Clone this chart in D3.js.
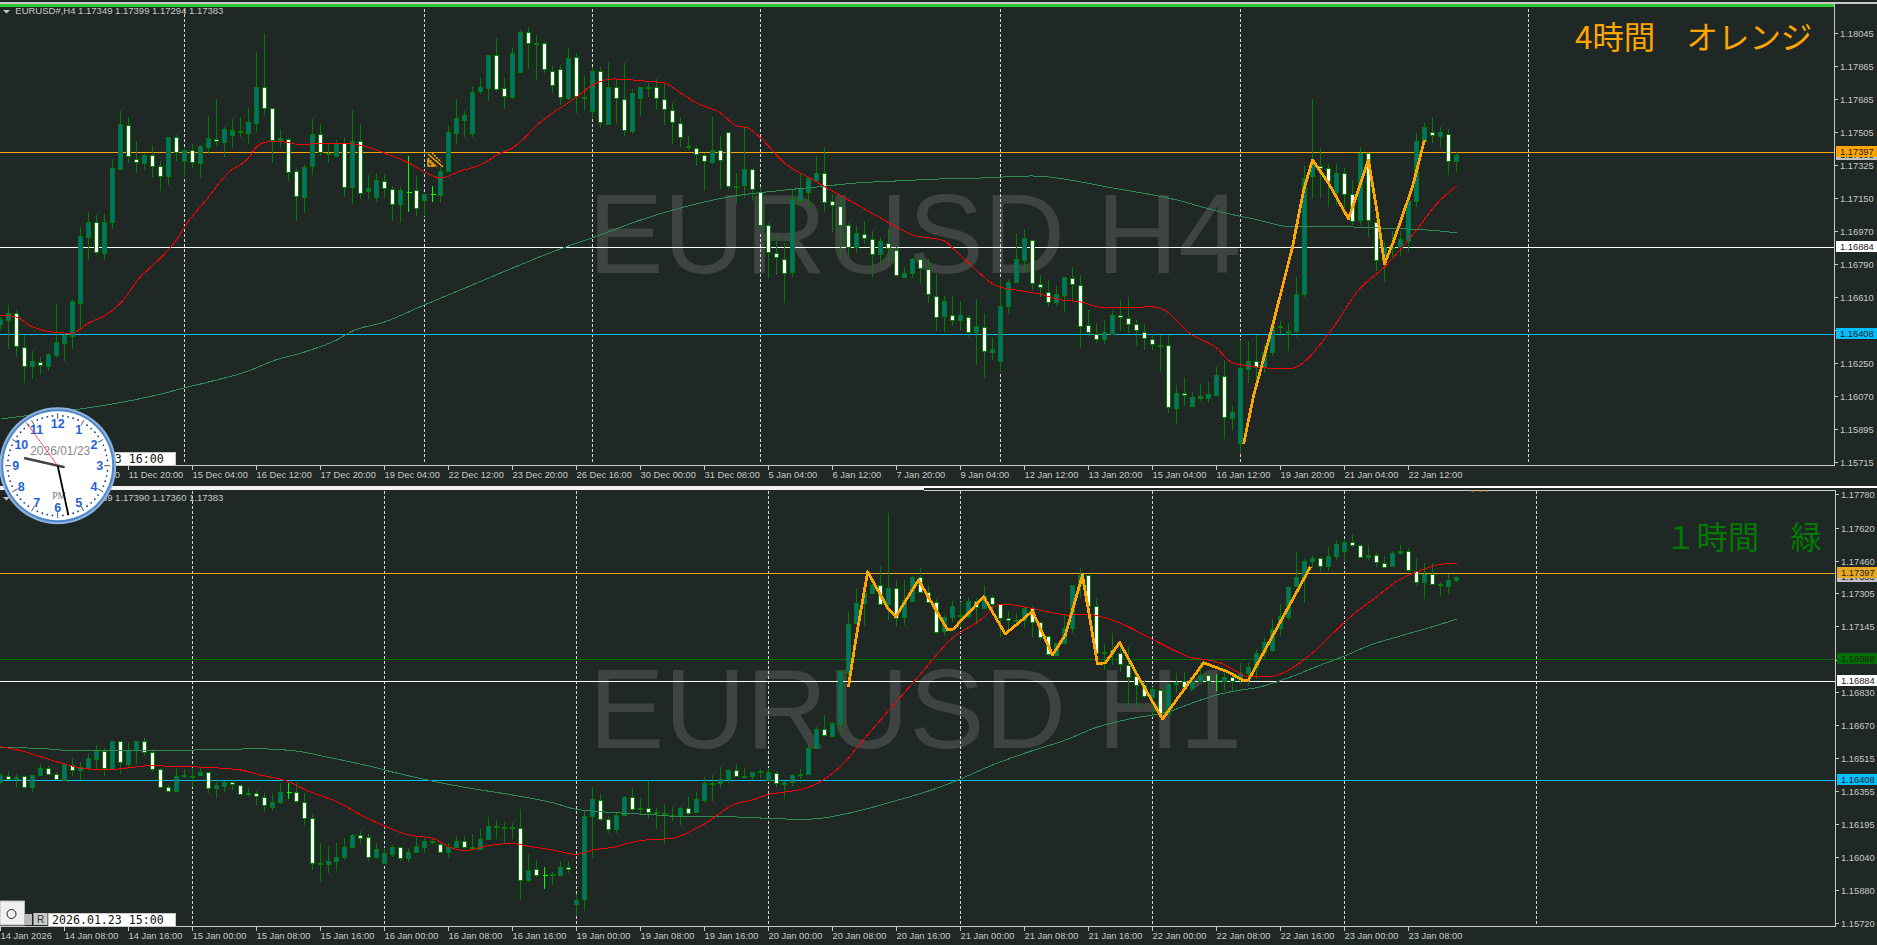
<!DOCTYPE html>
<html>
<head>
<meta charset="utf-8">
<title>EURUSD H4 / H1</title>
<script src="https://cdnjs.cloudflare.com/ajax/libs/d3/7.8.5/d3.min.js"></script>
<style>
html, body { margin: 0; padding: 0; background: #1f2825; overflow: hidden; }
svg { display: block; }
text { font-family: "Liberation Sans", Arial, sans-serif; }
</style>
</head>
<body>
<svg id="chart" width="1877" height="945"></svg>
<script>
// all prices in points, 17397 means 1.17397
// candles are [open, high, low, close]
var h4Candles = [
[16461,16504,16434,16488],[16483,16570,16331,16521],[16521,16542,16287,16341],[16341,16407,16146,16238],[16233,16320,16168,16260],
[16255,16287,16195,16238],[16233,16309,16211,16298],[16293,16575,16282,16363],[16358,16418,16265,16401],[16396,16602,16331,16586],
[16580,16993,16434,16944],[16933,17075,16814,17015],[17015,17058,16841,16852],[16852,17064,16814,17020],[17015,17362,16982,17308],
[17303,17623,17303,17547],[17542,17591,17341,17373],[17362,17460,17286,17346],[17341,17395,17303,17384],[17384,17433,17259,17324],
[17324,17352,17189,17270],[17265,17477,17221,17477],[17477,17493,17346,17395],[17352,17422,17265,17411],[17406,17444,17314,17341],
[17335,17439,17259,17428],[17422,17596,17390,17471],[17466,17688,17433,17455],[17449,17536,17373,17520],[17487,17580,17422,17515],
[17509,17591,17482,17504],[17498,17639,17444,17558],[17558,17944,17509,17753],[17748,18041,17601,17634],[17634,17634,17341,17460],
[17455,17520,17428,17471],[17466,17477,17243,17286],[17292,17308,17026,17156],[17151,17330,17069,17314],[17319,17580,17276,17493],
[17493,17553,17379,17395],[17384,17449,17341,17390],[17379,17466,17379,17449],[17449,17477,17156,17210],[17210,17629,17118,17460],
[17460,17553,17145,17178],[17183,17276,17145,17200],[17151,17286,17129,17243],[17238,17281,17151,17200],[17194,17216,17026,17113],
[17113,17210,17020,17189],[17183,17379,17075,17183],[17189,17270,17053,17091],[17140,17172,17053,17172],[17172,17216,17129,17172],
[17167,17319,17123,17297],[17292,17542,17292,17504],[17498,17688,17444,17580],[17574,17623,17482,17601],[17504,17759,17482,17726],
[17726,17802,17715,17748],[17743,17927,17677,17922],[17922,18020,17732,17737],[17743,17802,17634,17699],[17699,17965,17688,17938],
[17830,18063,17830,18047],[18047,18079,17851,17987],[17985,18036,17792,17990],[17992,17998,17830,17851],[17840,17868,17721,17764],
[17851,17873,17656,17699],[17688,17965,17683,17906],[17911,17938,17612,17699],[17694,17813,17623,17699],[17623,17862,17585,17840],
[17835,17862,17531,17558],[17553,17889,17547,17753],[17753,17792,17553,17694],[17688,17884,17487,17520],[17509,17743,17498,17716],
[17688,17753,17596,17748],[17745,17775,17699,17750],[17748,17797,17634,17688],[17683,17775,17547,17629],[17623,17667,17444,17558],
[17553,17591,17428,17477],[17428,17487,17411,17422],[17417,17433,17324,17384],[17379,17395,17194,17346],[17346,17591,17335,17411],
[17411,17487,17200,17357],[17504,17504,17200,17210],[17208,17286,17123,17213],[17216,17542,17151,17303],[17303,17308,17134,17194],
[17178,17210,16961,16999],[16999,17015,16716,16852],[16847,16944,16732,16825],[16819,16906,16580,16743],[16743,17194,16722,17140],
[17134,17286,17123,17200],[17178,17259,17096,17254],[17248,17379,17248,17286],[17286,17428,17075,17129],[17129,17172,16966,17107],
[17107,17167,16830,17004],[16999,17015,16830,16879],[16879,16999,16852,16955],[16950,17026,16901,16928],[16923,16971,16722,16841],
[16841,16939,16798,16912],[16906,16982,16798,16879],[16868,16895,16732,16732],[16722,16776,16722,16743],[16743,16825,16716,16819],
[16814,16825,16684,16765],[16760,16819,16580,16624],[16618,16738,16428,16504],[16504,16618,16417,16586],[16515,16618,16455,16488],
[16483,16591,16428,16510],[16504,16515,16396,16423],[16417,16602,16244,16450],[16445,16521,16173,16314],[16309,16396,16271,16325],
[16260,16711,16206,16559],[16559,16711,16521,16689],[16689,16955,16689,16814],[16809,16982,16749,16928],[16917,16923,16651,16684],
[16678,16732,16613,16662],[16635,16705,16559,16580],[16580,16673,16564,16624],[16618,16722,16532,16716],[16711,16776,16586,16678],
[16673,16732,16336,16450],[16456,16542,16396,16418],[16407,16472,16363,16380],[16380,16488,16358,16418],[16412,16537,16407,16515],
[16510,16597,16428,16499],[16494,16613,16417,16461],[16466,16488,16347,16434],[16418,16466,16325,16385],[16380,16412,16325,16352],
[16350,16407,16206,16352],[16347,16407,15983,16010],[16005,16135,15923,16086],[16086,16173,16021,16075],[16016,16097,16016,16065],
[16059,16141,16048,16070],[16059,16151,16037,16081],[16075,16233,16075,16184],[16179,16271,15842,15956],[15950,16021,15885,15983],
[15815,16380,15766,16222],[16222,16374,16146,16265],[16265,16407,16124,16233],[16227,16352,16200,16309],[16309,16477,16293,16450],
[16447,16483,16412,16450],[16412,16472,16320,16428],[16428,16722,16396,16629],[16629,17324,16613,17259],[17265,17688,17151,17330],
[17324,17422,17151,17314],[17308,17335,17102,17238],[17183,17341,17113,17286],[17286,17314,17096,17172],[17172,17248,17004,17026],
[17026,17428,17004,17390],[17390,17390,16939,17026],[17020,17053,16754,16814],[16803,16912,16694,16879],[16877,16971,16830,16879],
[16879,16971,16836,16923],[16917,17156,16857,17134],[17134,17504,17102,17460],[17460,17558,17449,17536],[17504,17591,17449,17487],
[17482,17536,17422,17504],[17498,17525,17276,17352],[17349,17399,17294,17383]
];

var h1Candles = [
[16402,16445,16391,16434],[16426,16455,16410,16413],[16416,16439,16373,16424],[16426,16429,16365,16375],[16373,16434,16354,16433],
[16431,16487,16431,16466],[16466,16477,16433,16437],[16435,16447,16410,16413],[16410,16493,16410,16485],[16482,16514,16429,16458],
[16455,16498,16410,16469],[16466,16535,16455,16514],[16511,16578,16463,16549],[16546,16564,16429,16466],[16463,16598,16463,16596],
[16594,16598,16439,16495],[16487,16594,16466,16554],[16554,16599,16487,16596],[16594,16612,16525,16543],[16543,16551,16450,16463],
[16461,16468,16375,16375],[16373,16386,16351,16356],[16354,16466,16354,16428],[16427,16461,16418,16431],[16424,16468,16375,16426],
[16431,16468,16431,16444],[16445,16450,16349,16370],[16370,16413,16325,16385],[16378,16407,16354,16399],[16397,16410,16362,16386],
[16385,16386,16338,16341],[16342,16375,16330,16346],[16344,16359,16290,16328],[16325,16346,16255,16285],[16277,16349,16263,16303],
[16301,16394,16295,16351],[16351,16397,16319,16351],[16349,16402,16301,16304],[16301,16346,16194,16223],[16224,16247,15978,16010],
[16006,16106,15922,16010],[16005,16093,15965,16018],[16018,16106,15975,16037],[16037,16132,16026,16085],[16085,16149,16085,16145],
[16143,16167,16103,16130],[16133,16149,16023,16039],[16037,16106,16029,16077],[16008,16083,16008,16056],[16052,16098,16042,16087],
[16085,16090,16021,16034],[16032,16082,16016,16063],[16064,16138,16058,16092],[16090,16130,16059,16117],[16114,16130,16103,16108],
[16100,16106,16058,16063],[16061,16106,16036,16087],[16088,16141,16082,16116],[16114,16141,16082,16087],[16085,16149,16075,16079],
[16079,16173,16079,16125],[16123,16231,16123,16186],[16186,16218,16125,16188],[16181,16210,16106,16183],[16177,16202,16125,16181],
[16178,16271,15834,15929],[15927,16055,15922,15977],[15980,16026,15943,15953],[15953,15994,15887,15953],[15956,15970,15906,15958],
[15954,16021,15951,15991],[15989,16021,15965,15981],[15813,15861,15762,15833],[15837,16266,15781,16237],[16234,16375,16037,16317],
[16313,16343,16214,16221],[16219,16237,16154,16169],[16170,16253,16157,16239],[16239,16333,16239,16327],[16325,16370,16263,16269],
[16272,16322,16242,16275],[16272,16407,16223,16253],[16253,16274,16175,16247],[16247,16295,16103,16249],[16237,16282,16215,16240],
[16239,16282,16194,16274],[16274,16327,16242,16250],[16253,16351,16253,16317],[16311,16423,16298,16394],[16393,16434,16309,16395],
[16394,16471,16373,16413],[16416,16461,16394,16457],[16455,16485,16423,16428],[16425,16466,16421,16427],[16426,16450,16410,16445],
[16448,16461,16421,16450],[16407,16466,16402,16447],[16440,16455,16378,16391],[16389,16405,16320,16399],[16399,16437,16381,16433],
[16434,16461,16397,16436],[16435,16581,16435,16562],[16560,16663,16557,16653],[16653,16722,16626,16626],[16621,16688,16616,16682],
[16677,16938,16636,16930],[16928,17216,16909,17159],[17159,17326,17159,17256],[17258,17354,17151,17306],[17309,17375,17308,17346],
[17345,17437,17250,17253],[17253,17694,17178,17331],[17331,17370,17146,17189],[17189,17370,17154,17271],[17267,17390,17267,17383],
[17383,17428,17306,17311],[17311,17342,17263,17263],[17263,17279,17110,17119],[17122,17202,17102,17191],[17189,17270,17170,17241],
[17195,17267,17146,17198],[17194,17291,17186,17268],[17266,17284,17159,17235],[17233,17342,17231,17291],[17288,17299,17217,17255],
[17254,17255,17098,17186],[17186,17221,17119,17177],[17173,17211,17146,17175],[17178,17245,17138,17234],[17234,17245,17095,17167],
[17165,17168,17082,17093],[17098,17106,17007,17010],[17010,17069,17010,17066],[17066,17202,17066,17138],[17138,17346,17117,17345],
[17345,17428,17283,17393],[17391,17394,17243,17244],[17242,17282,16966,17018],[17021,17062,16938,17024],[17034,17114,16962,17021],
[17018,17069,16930,16966],[16962,17050,16762,16906],[16909,16938,16757,16865],[16863,16890,16804,16810],[16806,16858,16714,16843],
[16839,16852,16722,16730],[16726,16875,16726,16870],[16870,16924,16828,16878],[16884,16930,16853,16857],[16853,16906,16852,16885],
[16884,16973,16882,16913],[16911,16924,16842,16884],[16882,16919,16839,16882],[16883,16938,16837,16903],[16900,16930,16833,16883],
[16890,16971,16870,16923],[16919,16971,16861,16949],[16949,17037,16894,17018],[17020,17092,16996,17068],[17030,17181,17025,17133],
[17137,17255,17103,17194],[17192,17342,17178,17336],[17338,17506,17337,17383],[17383,17474,17262,17460],[17458,17485,17428,17474],
[17474,17479,17410,17434],[17434,17527,17415,17482],[17482,17562,17465,17541],[17506,17562,17456,17551],[17551,17591,17527,17537],
[17535,17538,17475,17479],[17479,17538,17465,17489],[17487,17498,17434,17451],[17449,17485,17431,17431],[17434,17509,17433,17498],
[17498,17538,17490,17508],[17508,17522,17410,17418],[17413,17475,17341,17359],[17359,17451,17279,17398],[17398,17451,17346,17348],
[17346,17359,17295,17349],[17338,17399,17305,17369],[17369,17390,17360,17383]
];

// moving averages, read as [bar, price] at the bends of each curve
var h4Red = [[0,16515],[2,16504],[4,16450],[8,16417],[9,16417],[11,16472],[13,16510],[15,16580],[17.5,16722],[20,16825],[22,16923],[23,16993],[26,17156],[28.4,17286],[31,17368],[32,17428],[33.4,17455],[35.4,17455],[37.5,17439],[40,17449],[44,17444],[48,17395],[51,17341],[53,17292],[55,17259],[57.5,17297],[60,17330],[62.5,17395],[64,17422],[67.5,17563],[72,17699],[74,17764],[76.6,17797],[80.4,17786],[83,17775],[85,17721],[87,17667],[90,17612],[92,17542],[93.4,17531],[95,17477],[98,17341],[101.6,17248],[106,17140],[110,17042],[114,16950],[118,16917],[119,16879],[121,16798],[124.5,16673],[127.6,16646],[130.4,16624],[132,16602],[135,16586],[138,16553],[144,16559],[145.5,16542],[148.6,16417],[152,16336],[154,16255],[157,16233],[161,16222],[162,16233],[166,16412],[170,16662],[173,16776],[177,16977],[179.6,17123],[182,17216]];
var h4Green = [[0,15950],[5,15978],[10,16005],[14,16032],[19,16075],[23,16119],[26,16151],[31,16211],[34,16265],[38,16314],[42,16379],[44,16428],[48,16477],[53,16570],[57.5,16651],[62.5,16743],[70,16874],[75,16950],[80,17031],[85,17096],[91,17156],[97,17189],[102,17210],[107,17232],[112,17243],[117.5,17254],[122.5,17259],[129,17270],[139,17205],[147,17140],[152.5,17075],[156.6,17037],[161.6,16993],[169,16993],[172,16988],[180,16971],[182,16961]];
var h1Red = [[0,16570],[3,16546],[5,16522],[8,16487],[11,16463],[14,16461],[16,16469],[19,16479],[22,16474],[25,16472],[30,16458],[32.5,16434],[36,16402],[38,16365],[42,16306],[45.5,16234],[48,16189],[51,16146],[54,16130],[56.5,16082],[58,16071],[61,16095],[64,16106],[65.5,16095],[69,16074],[72,16053],[74,16074],[77,16090],[78.4,16106],[80,16119],[84,16130],[86,16159],[88,16199],[92,16298],[94,16314],[96,16341],[98.4,16354],[101,16375],[104,16442],[105.4,16490],[108,16609],[114.6,16900],[119,17092],[122.5,17178],[125,17255],[126.6,17250],[131,17217],[133.4,17202],[135.6,17207],[139.6,17169],[143.4,17097],[145.4,17058],[149,16996],[151,16986],[152.5,16972],[154.6,16929],[156,16905],[158.4,16905],[160,16919],[162,16962],[164,17020],[166.6,17116],[169,17202],[172,17289],[174.6,17366],[177,17409],[179.6,17443],[182,17452]];
var h1Green = [[0,16568],[6,16559],[9,16551],[17,16554],[24,16554],[32.5,16560],[37,16549],[40.6,16522],[45.5,16482],[50,16439],[54,16405],[58,16375],[64,16338],[69,16301],[72,16269],[77,16253],[82,16242],[85,16234],[90,16234],[96,16226],[100,16221],[102.5,16226],[105,16242],[108,16269],[112.5,16317],[117,16370],[120,16415],[124,16482],[128,16538],[133.4,16606],[137,16663],[141,16702],[146,16738],[150,16794],[152.5,16823],[155,16842],[157,16853],[160,16887],[165,16962],[168,17005],[171,17055],[175,17102],[179,17146],[182,17182]];

// hand drawn orange zigzags
var h4Zigzag = [[155.4,15815],[156.6,16070],[159.1,16472],[161.5,16885],[162.9,17194],[164,17357],[166,17232],[168.5,17037],[171,17357],[172.1,17068],[173,16792],[174.2,16923],[176.5,17212],[178,17466]];
var h1Zigzag = [[106,16858],[106.9,17082],[108.4,17410],[110.9,17236],[111.9,17194],[114.75,17370],[118.4,17130],[119.1,17135],[122.9,17290],[125.6,17111],[129,17221],[131.5,17010],[133.1,17106],[135.25,17394],[137.1,16970],[138.1,16972],[139.9,17070],[142.1,16914],[145.25,16703],[150.4,16973],[153.4,16930],[155.4,16887],[156,16890],[163.75,17434]];

// horizontal levels
var h4Levels = [17397, 16884, 16408];
var h4LevelText = ["1.17397", "1.16884", "1.16408"];
var h4LevelColors = ["#ffa500", "#ffffff", "#00bfff"];
var h1Levels = [17403, 16988, 16884, 16408];
var h1LevelText = ["1.17397", "1.16988", "1.16884", "1.16408"];
var h1LevelColors = ["#e6a723", "#007000", "#ffffff", "#00bfff"];

// period separators, bar numbers
var h4Separators = [23, 53, 74, 95, 125, 155, 191];
var h1Separators = [24, 48, 72, 96, 120, 144, 168, 192];

// price axis
var h4PriceTicks = [18045,17865,17685,17505,17325,17150,16970,16790,16610,16430,16250,16070,15895,15715];
var h1PriceTicks = [17780,17620,17460,17305,17145,16985,16830,16670,16515,16355,16195,16040,15880,15720];

// time axis, one label every 8 bars
var h4TimeLabels = ["9 Dec 04:00","10 Dec 12:00","11 Dec 20:00","15 Dec 04:00","16 Dec 12:00","17 Dec 20:00","19 Dec 04:00","22 Dec 12:00","23 Dec 20:00","26 Dec 16:00","30 Dec 00:00","31 Dec 08:00","5 Jan 04:00","6 Jan 12:00","7 Jan 20:00","9 Jan 04:00","12 Jan 12:00","13 Jan 20:00","15 Jan 04:00","16 Jan 12:00","19 Jan 20:00","21 Jan 04:00","22 Jan 12:00"];
var h1TimeLabels = ["14 Jan 2026","14 Jan 08:00","14 Jan 16:00","15 Jan 00:00","15 Jan 08:00","15 Jan 16:00","16 Jan 00:00","16 Jan 08:00","16 Jan 16:00","19 Jan 00:00","19 Jan 08:00","19 Jan 16:00","20 Jan 00:00","20 Jan 08:00","20 Jan 16:00","21 Jan 00:00","21 Jan 08:00","21 Jan 16:00","22 Jan 00:00","22 Jan 08:00","22 Jan 16:00","23 Jan 00:00","23 Jan 08:00"];

// clock widget
var clockNumbers = [12,1,2,3,4,5,6,7,8,9,10,11];
var clockHour = 9.43, clockMinute = 27.97, clockSecond = 54;

var svg = d3.select("#chart");
var bg = "#1f2825";
var axisColor = "#c8c8c8";
var upFill = "#00717a", wickColor = "#008000", dojiColor = "#00ff00";

svg.append("rect").attr("width", 1877).attr("height", 945).attr("fill", bg);

// one bar is 8px wide on both charts
var x = d3.scaleLinear().domain([0, 192]).range([0.5, 1536.5]);

function px(v) { return Math.floor(v) + 0.5; }

function priceText(v) { return "1." + v; }

function drawPanel(p) {
    var y = d3.scaleLinear().domain([p.priceLow, p.priceHigh]).range([p.yLow, p.yHigh]);
    var g = svg.append("g");

    // big symbol text sits behind everything
    g.append("text").attr("x", p.markX).attr("y", p.markY)
        .attr("font-size", 113).attr("fill", "#3f4342").text(p.mark);

    g.selectAll("line.sep").data(p.separators).enter().append("line").attr("class", "sep")
        .attr("x1", function(d) { return x(d); }).attr("x2", function(d) { return x(d); })
        .attr("y1", p.sepTop).attr("y2", p.sepBottom)
        .attr("stroke", "#d8d8d8").attr("stroke-dasharray", "3,2").attr("shape-rendering", "crispEdges");

    g.selectAll("line.level").data(p.levels).enter().append("line").attr("class", "level")
        .attr("x1", 0).attr("x2", p.right)
        .attr("y1", function(d) { return px(y(d)); }).attr("y2", function(d) { return px(y(d)); })
        .attr("stroke", function(d, i) { return p.levelColors[i]; })
        .attr("shape-rendering", "crispEdges");

    var bars = g.selectAll("g.bar").data(p.candles).enter().append("g").attr("class", "bar")
        .attr("shape-rendering", "crispEdges");
    bars.append("line")
        .attr("x1", function(d, i) { return x(i); }).attr("x2", function(d, i) { return x(i); })
        .attr("y1", function(d) { return Math.round(y(d[1])); }).attr("y2", function(d) { return Math.round(y(d[2])); })
        .attr("stroke", function(d) { return d[0] == d[3] ? dojiColor : wickColor; });
    // flat bars get a short cross line, the others a box
    bars.filter(function(d) { return d[0] == d[3]; }).append("line")
        .attr("x1", function(d) { return x(p.candles.indexOf(d)) - 2; })
        .attr("x2", function(d) { return x(p.candles.indexOf(d)) + 3; })
        .attr("y1", function(d) { return px(y(d[0])); }).attr("y2", function(d) { return px(y(d[0])); })
        .attr("stroke", dojiColor);
    bars.filter(function(d) { return d[0] != d[3]; }).append("rect")
        .attr("x", function(d) { return x(p.candles.indexOf(d)) - 2; })
        .attr("width", 4)
        .attr("y", function(d) { return px(y(Math.max(d[0], d[3]))); })
        .attr("height", function(d) { return Math.max(1, Math.round(Math.abs(y(d[0]) - y(d[3])))); })
        .attr("fill", function(d) { return d[3] > d[0] ? upFill : "#ffffff"; })
        .attr("stroke", wickColor);

    var line = d3.line()
        .x(function(d) { return x(d[0]); })
        .y(function(d) { return y(d[1]); });
    var smooth = d3.line().curve(d3.curveMonotoneX)
        .x(function(d) { return x(d[0]); })
        .y(function(d) { return y(d[1]); });

    g.append("path").attr("d", smooth(p.greenMa)).attr("fill", "none")
        .attr("stroke", "#2e8b57").attr("shape-rendering", "crispEdges");
    g.append("path").attr("d", smooth(p.redMa)).attr("fill", "none")
        .attr("stroke", "#ff0000").attr("shape-rendering", "crispEdges");
    g.append("path").attr("d", line(p.zigzag)).attr("fill", "none")
        .attr("stroke", "#ffa500").attr("stroke-width", 2.8).attr("stroke-linejoin", "round")
        .attr("shape-rendering", "crispEdges");

    // frame
    var frame = g.append("g").attr("shape-rendering", "crispEdges").attr("stroke", axisColor);
    frame.append("line").attr("x1", p.right + 0.5).attr("x2", p.right + 0.5)
        .attr("y1", p.frameTop).attr("y2", p.frameBottom);
    frame.append("line").attr("x1", 0).attr("x2", p.right + 1)
        .attr("y1", p.frameBottom + 0.5).attr("y2", p.frameBottom + 0.5);

    // price axis
    var ticks = g.selectAll("g.ptick").data(p.priceTicks).enter().append("g").attr("class", "ptick")
        .attr("transform", function(d) { return "translate(0," + px(y(d)) + ")"; });
    ticks.append("line").attr("x1", p.right + 1).attr("x2", p.right + 4)
        .attr("stroke", axisColor).attr("shape-rendering", "crispEdges");
    ticks.append("text").attr("x", p.right + 6).attr("y", 3.5)
        .attr("font-size", 9.33).attr("fill", axisColor).text(priceText);

    // labels on the right: current price first, levels over it
    var cur = p.candles[p.candles.length - 1][3];
    g.append("rect").attr("x", p.right + 2).attr("y", px(y(cur)) - 6.5).attr("width", 44).attr("height", 11).attr("fill", "#c0c0c0");
    g.append("text").attr("x", p.right + 6).attr("y", px(y(cur)) + 2.5).attr("font-size", 9.33).attr("fill", "#222").text(priceText(cur));
    p.levels.forEach(function(v, i) {
        g.append("rect").attr("x", p.right + 2).attr("y", px(y(v)) - 6.5).attr("width", 44).attr("height", 11)
            .attr("fill", p.levelColors[i]);
        g.append("text").attr("x", p.right + 6).attr("y", px(y(v)) + 2.5).attr("font-size", 9.33)
            .attr("fill", "#222").text(p.levelText[i]);
    });

    // time axis
    var t = g.selectAll("g.ttick").data(p.timeLabels).enter().append("g").attr("class", "ttick")
        .attr("transform", function(d, i) { return "translate(" + x(i * 8) + "," + (p.frameBottom + 1) + ")"; });
    t.append("line").attr("y1", 0).attr("y2", 4).attr("stroke", axisColor).attr("shape-rendering", "crispEdges");
    t.append("text").attr("x", 0).attr("y", 12).attr("font-size", 9.33).attr("fill", axisColor).text(String);

    // legend line, top left
    g.append("path").attr("d", "M3," + p.legendY + "l7,0l-3.5,3.5z").attr("fill", axisColor);
    g.append("text").attr("x", 15.3).attr("y", p.legendY + 4).attr("font-size", 9.5).attr("fill", axisColor)
        .text(p.legend);

    // note
    g.append("text").attr("x", p.noteX).attr("y", p.noteY).attr("font-size", 31.4)
        .style("font-family", "'Noto Sans CJK JP'").attr("fill", p.noteColor).text(p.note);

    // time box at the bottom left
    g.append("rect").attr("x", 48.5).attr("y", p.frameBottom - 13).attr("width", 127).attr("height", 13)
        .attr("fill", "#fff").attr("stroke", "#c8c8c8").attr("shape-rendering", "crispEdges");
    g.append("text").attr("x", 52).attr("y", p.frameBottom - 2.5).attr("font-size", 11.6)
        .style("font-family", "'DejaVu Sans Mono'").attr("fill", "#111").text(p.timeBox);
}

drawPanel({
    candles: h4Candles, redMa: h4Red, greenMa: h4Green, zigzag: h4Zigzag,
    levels: h4Levels, levelText: h4LevelText, levelColors: h4LevelColors,
    separators: h4Separators, priceTicks: h4PriceTicks, timeLabels: h4TimeLabels,
    priceLow: 15715, priceHigh: 18045, yLow: 462.3, yHigh: 33.3,
    right: 1834, frameTop: 3, frameBottom: 465, sepTop: 9, sepBottom: 462,
    mark: "EURUSD H4", markX: 588, markY: 273,
    legend: "EURUSD#,H4  1.17349 1.17399 1.17294 1.17383", legendY: 10,
    note: "4時間　オレンジ", noteX: 1575, noteY: 49, noteColor: "#ffa500",
    timeBox: "2026.01.23 16:00"
});

drawPanel({
    candles: h1Candles, redMa: h1Red, greenMa: h1Green, zigzag: h1Zigzag,
    levels: h1Levels, levelText: h1LevelText, levelColors: h1LevelColors,
    separators: h1Separators, priceTicks: h1PriceTicks, timeLabels: h1TimeLabels,
    priceLow: 15720, priceHigh: 17780, yLow: 923.7, yHigh: 494.7,
    right: 1835, frameTop: 490, frameBottom: 926, sepTop: 491, sepBottom: 925,
    mark: "EURUSD H1", markX: 589, markY: 748,
    legend: "EURUSD#,H1  1.17369 1.17390 1.17360 1.17383", legendY: 497,
    note: "１時間　緑", noteX: 1665, noteY: 549, noteColor: "#007a00",
    timeBox: "2026.01.23 15:00"
});

// window borders
svg.append("rect").attr("x", 0).attr("y", 0).attr("width", 1877).attr("height", 2).attr("fill", "#1f2825");
svg.append("rect").attr("x", 0).attr("y", 2).attr("width", 1877).attr("height", 2).attr("fill", "#c8c8c8");
svg.append("rect").attr("x", 0).attr("y", 4).attr("width", 1834).attr("height", 3).attr("fill", "#32cd32");
svg.append("rect").attr("x", 0).attr("y", 486).attr("width", 924).attr("height", 4).attr("fill", "#f4f4f4");
svg.append("rect").attr("x", 924).attr("y", 486).attr("width", 953).attr("height", 2).attr("fill", "#ffffff");
svg.append("line").attr("x1", 924).attr("x2", 1836).attr("y1", 490.5).attr("y2", 490.5)
    .attr("stroke", axisColor).attr("shape-rendering", "crispEdges");

// bits of an orange object cut off by the H1 chart top
svg.append("path").attr("d", "M1471,491h4m4,0h3m3,0h3").attr("stroke", "#c98a1a").attr("fill", "none");

// small arrow object on the H4 chart
var icon = svg.append("g").attr("fill", "none").attr("stroke", "#ffa500");
icon.append("path").attr("d", "M428,154L443,167").attr("stroke-width", 1.5);
icon.append("path").attr("d", "M432,153L441,162M428,158L437,167").attr("stroke-width", 1.5).attr("stroke-dasharray", "2,1");
icon.append("path").attr("d", "M428,160L428,166L434,166z").attr("stroke-width", 1.5);

// chart buttons bottom left
svg.append("rect").attr("x", 0).attr("y", 901).attr("width", 24.5).attr("height", 24).attr("fill", "#f0f0f0").attr("stroke", "#b8b8b8");
svg.append("circle").attr("cx", 11.5).attr("cy", 914).attr("r", 4.5).attr("fill", "none").attr("stroke", "#222");
svg.append("rect").attr("x", 25).attr("y", 914).attr("width", 7).attr("height", 11).attr("fill", "#b8b8b8");
svg.append("rect").attr("x", 33.5).attr("y", 913).attr("width", 14).attr("height", 12).attr("fill", "#c8c8c8");
svg.append("text").attr("x", 37).attr("y", 923).attr("font-size", 10).attr("fill", "#333").text("R");

// clock widget over the corner
var cx = 57.7, cy = 465.7;
var clock = svg.append("g").attr("transform", "translate(" + cx + "," + cy + ")");
var minuteAngle = d3.scaleLinear().domain([0, 60]).range([0, 2 * Math.PI]);
var hourAngle = d3.scaleLinear().domain([0, 12]).range([0, 2 * Math.PI]);
function onDial(a, r) { return [r * Math.sin(a), -r * Math.cos(a)]; }

clock.append("circle").attr("r", 58.5).attr("fill", "#8fb4e0");
clock.append("circle").attr("r", 56.5).attr("fill", "#4f87c9");
clock.append("circle").attr("r", 54.5).attr("fill", "#ffffff");

clock.selectAll("circle.dot").data(d3.range(60)).enter().append("circle").attr("class", "dot")
    .attr("cx", function(d) { return onDial(minuteAngle(d), 50)[0]; })
    .attr("cy", function(d) { return onDial(minuteAngle(d), 50)[1]; })
    .attr("r", function(d) { return d % 5 ? 0.9 : 0; }).attr("fill", "#1b3c73");
clock.selectAll("line.hr").data(clockNumbers).enter().append("line").attr("class", "hr")
    .attr("x1", function(d) { return onDial(hourAngle(d), 46.5)[0]; })
    .attr("y1", function(d) { return onDial(hourAngle(d), 46.5)[1]; })
    .attr("x2", function(d) { return onDial(hourAngle(d), 52.5)[0]; })
    .attr("y2", function(d) { return onDial(hourAngle(d), 52.5)[1]; })
    .attr("stroke", "#555");
clock.selectAll("text.num").data(clockNumbers).enter().append("text").attr("class", "num")
    .attr("x", function(d) { return onDial(hourAngle(d), 42)[0]; })
    .attr("y", function(d) { return onDial(hourAngle(d), 42)[1] + 4.5; })
    .attr("text-anchor", "middle").attr("font-size", 12.5).attr("font-weight", "bold").attr("fill", "#1f63d4")
    .text(String);
clock.append("text").attr("x", 2.5).attr("y", -11).attr("text-anchor", "middle").attr("font-size", 12)
    .attr("fill", "#8a8a8a").text("2026/01/23");
clock.append("text").attr("x", 1.5).attr("y", 33.5).attr("text-anchor", "middle").attr("font-size", 9.5)
    .style("font-family", "'Liberation Serif'").attr("fill", "#777").text("PM");

var hourEnd = onDial(hourAngle(clockHour), 33.5);
var hourTail = onDial(hourAngle(clockHour) + Math.PI, 6);
var minEnd = onDial(minuteAngle(clockMinute), 50.5);
var secEnd = onDial(minuteAngle(clockSecond), 53.7);
clock.append("line").attr("x1", hourTail[0]).attr("y1", hourTail[1]).attr("x2", hourEnd[0]).attr("y2", hourEnd[1])
    .attr("stroke", "#444").attr("stroke-width", 2.6).attr("stroke-linecap", "round");
clock.append("line").attr("x1", 0).attr("y1", 0).attr("x2", secEnd[0]).attr("y2", secEnd[1])
    .attr("stroke", "#ff2030").attr("stroke-width", 0.8);
clock.append("line").attr("x1", 0).attr("y1", 0).attr("x2", minEnd[0]).attr("y2", minEnd[1])
    .attr("stroke", "#000").attr("stroke-width", 1.8);
</script>
</body>
</html>
